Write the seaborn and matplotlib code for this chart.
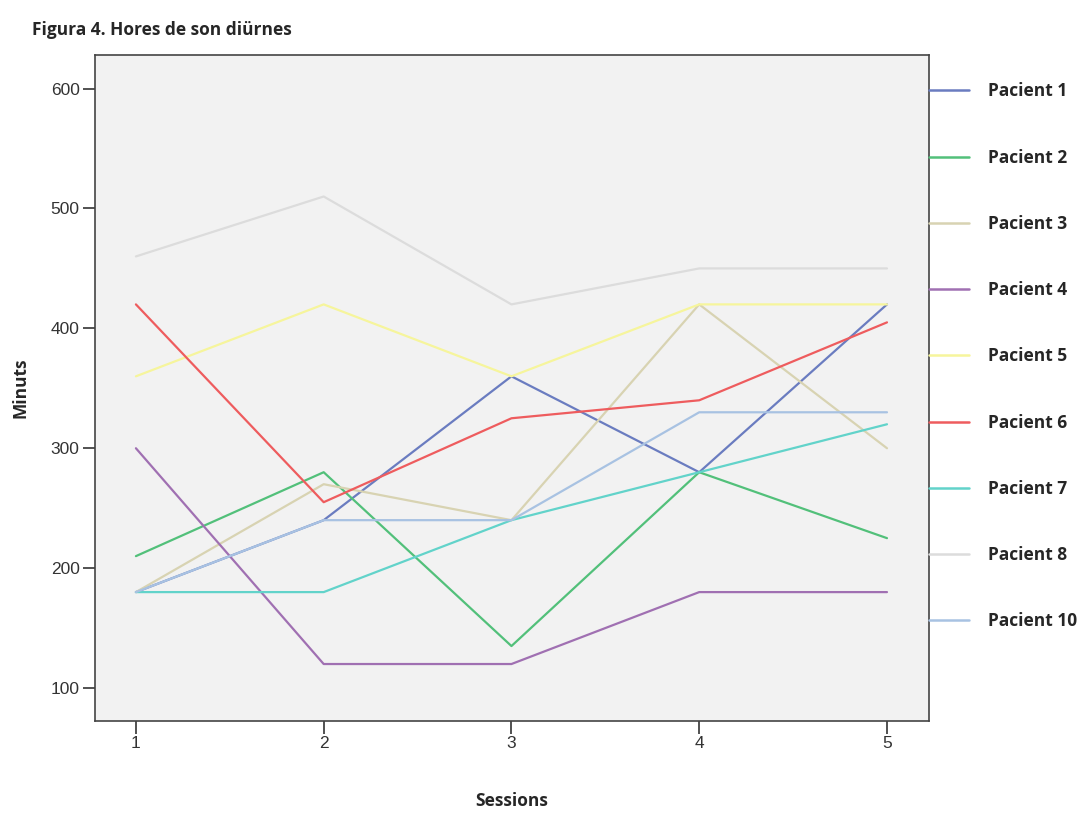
"""Figura 4: hores de son diürnes per pacient i sessió."""
import pandas as pd
import matplotlib
matplotlib.use("Agg")
import matplotlib.pyplot as plt
import seaborn as sns

sessions = [1, 2, 3, 4, 5]
pacients = ["Pacient 1", "Pacient 2", "Pacient 3", "Pacient 4", "Pacient 5",
            "Pacient 6", "Pacient 7", "Pacient 8", "Pacient 10"]
pacient_1 = [180, 240, 360, 280, 420]
pacient_2 = [210, 280, 135, 280, 225]
pacient_3 = [180, 270, 240, 420, 300]
pacient_4 = [300, 120, 120, 180, 180]
pacient_5 = [360, 420, 360, 420, 420]
pacient_6 = [420, 255, 325, 340, 405]
pacient_7 = [180, 180, 240, 280, 320]
pacient_8 = [460, 510, 420, 450, 450]
pacient_10 = [180, 240, 240, 330, 330]
colors = ["#6a7cc0", "#52c07a", "#d8d3b2", "#a070b2", "#f6f59c",
          "#ee5c5e", "#62d3ca", "#dcdcdc", "#a8c2e2"]

series = [pacient_1, pacient_2, pacient_3, pacient_4, pacient_5,
          pacient_6, pacient_7, pacient_8, pacient_10]
data = pd.concat([
    pd.DataFrame({"Sessions": sessions, "Minuts": vals, "pacient": name})
    for name, vals in zip(pacients, series)
])

sns.set_style("ticks")
plt.rcParams["font.family"] = ["Liberation Sans", "DejaVu Sans"]

fig = plt.figure(figsize=(10.88, 8.13), dpi=100)
ax = fig.add_axes([0.0873, 0.1132, 0.7666, 0.8191])
ax.set_facecolor("#f2f2f2")
sns.lineplot(data=data, x="Sessions", y="Minuts", hue="pacient",
             hue_order=pacients, palette=colors, linewidth=1.6,
             legend=False, ax=ax)

ax.set_xlim(0.782, 5.224)
ax.set_ylim(72.5, 628)
ax.set_xticks(sessions)
ax.set_yticks([100, 200, 300, 400, 500, 600])
ax.tick_params(labelsize=12.5, colors="#333333", length=9, width=1.2, pad=2)
for s in ax.spines.values():
    s.set_visible(True)
    s.set_color("#444444")
    s.set_linewidth(1.2)

lab_font = dict(family=["Open Sans", "DejaVu Sans"], weight="bold", size=12.5)
ax.set_xlabel("Sessions", labelpad=29, **lab_font)
ax.set_ylabel("Minuts", labelpad=15, **lab_font)
fig.text(0.029, 0.963, "Figura 4. Hores de son diürnes", ha="left", va="center",
         family=["Open Sans", "DejaVu Sans"], weight="bold", size=12.5)

handles = [plt.Line2D([], [], color=c, linewidth=1.8) for c in colors]
ax.legend(handles, pacients, loc="upper left", bbox_to_anchor=(1.0, 0.959),
          frameon=False, borderaxespad=0, borderpad=0, handlelength=2.3,
          handletextpad=1.1, labelspacing=2.78,
          prop=dict(family=["Open Sans", "DejaVu Sans"], weight="bold", size=12.5))

fig.savefig("out.png", dpi=100)
